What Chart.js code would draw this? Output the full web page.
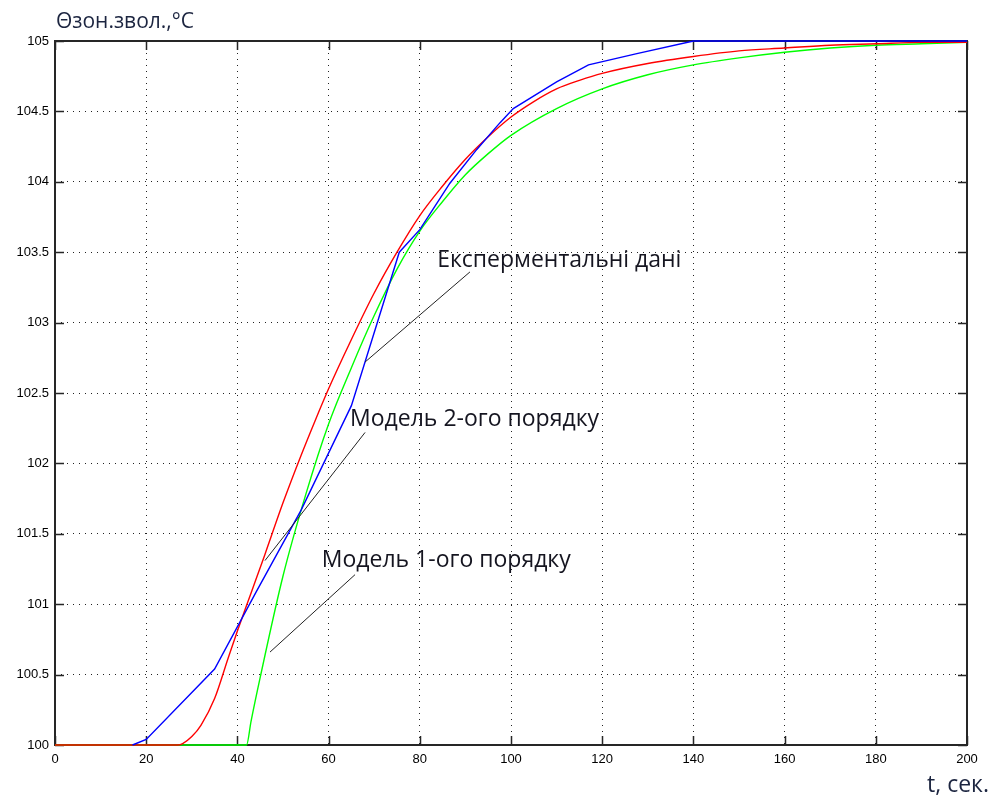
<!DOCTYPE html>
<html>
<head>
<meta charset="utf-8">
<script src="https://cdn.jsdelivr.net/npm/chart.js@4/dist/chart.umd.min.js"></script>
<style>
  html, body { margin: 0; padding: 0; background: #fff; }
  #wrap { width: 993px; height: 798px; position: relative; }
</style>
</head>
<body>
<div id="wrap"><canvas id="c" width="993" height="798"></canvas></div>
<script>
// ---- data ----
const expT   = [17, 20, 35, 44, 54, 65, 75.5, 80, 86.6, 92.5, 97.6, 100.5, 110, 117, 127.6, 140, 200];
const expVal = [100, 100.04, 100.54, 101.08, 101.67, 102.41, 103.5, 103.66, 103.99, 104.23, 104.42, 104.52, 104.71, 104.83, 104.91, 105, 105];

const m2T   = [0, 27, 28, 30, 32, 35, 38, 40, 43, 46, 50, 54, 57, 60, 65, 70, 75, 80, 85, 90, 95, 100, 105, 110, 115, 120, 130, 140, 150, 160, 170, 180, 190, 200];
const m2Val = [100, 100, 100.01, 100.06, 100.14, 100.33, 100.62, 100.81, 101.08, 101.35, 101.72, 102.06, 102.3, 102.53, 102.88, 103.21, 103.5, 103.76, 103.97, 104.16, 104.32, 104.46, 104.57, 104.66, 104.72, 104.77, 104.84, 104.89, 104.93, 104.95, 104.97, 104.98, 104.99, 104.99];

const m1T   = [0, 42, 43, 45, 50, 55, 60, 65, 70, 75, 80, 85, 90, 95, 100, 110, 120, 130, 140, 150, 160, 170, 180, 190, 200];
const m1Val = [100, 100, 100.17, 100.48, 101.2, 101.78, 102.28, 102.68, 103.05, 103.38, 103.65, 103.86, 104.05, 104.2, 104.33, 104.52, 104.66, 104.76, 104.83, 104.88, 104.92, 104.95, 104.97, 104.98, 104.99];

const xTicks = [0, 20, 40, 60, 80, 100, 120, 140, 160, 180, 200];
const yTicks = [100, 100.5, 101, 101.5, 102, 102.5, 103, 103.5, 104, 104.5, 105];

const labelExp = 'Експерментальні дані';
const labelM2  = 'Модель 2-ого порядку';
const labelM1  = 'Модель 1-ого порядку';
const yTitle   = 'Θзон.звол.,°C';
const xTitle   = 't, сек.';

// callout leader lines (in data units): [x1, y1, x2, y2]
const calloutExp = [68, 102.72, 91, 103.36];
const calloutM2  = [46.05, 101.31, 68, 102.22];
const calloutM1  = [47.15, 100.66, 65.8, 101.21];
// label anchors (data units, left / middle)
const textExp = [83.8, 103.44];
const textM2  = [64.7, 102.31];
const textM1  = [58.5, 101.31];

const pts = (xs, ys) => xs.map((x, i) => ({x, y: ys[i]}));
const seg = (c) => [{x: c[0], y: c[1]}, {x: c[2], y: c[3]}];

const framePlugin = {
  id: 'frame',
  beforeDatasetsDraw(chart) {
    const {ctx, chartArea: a, scales: {x, y}} = chart;
    ctx.save();
    ctx.strokeStyle = '#262626';
    ctx.lineWidth = 1.5;
    const L = 9;
    ctx.beginPath();
    xTicks.forEach(v => {
      const px = Math.round(x.getPixelForValue(v)) + 0.5;
      ctx.moveTo(px, a.bottom); ctx.lineTo(px, a.bottom - L);
      ctx.moveTo(px, a.top); ctx.lineTo(px, a.top + L);
    });
    yTicks.forEach(v => {
      const py = Math.round(y.getPixelForValue(v)) + 0.5;
      ctx.moveTo(a.left, py); ctx.lineTo(a.left + L, py);
      ctx.moveTo(a.right, py); ctx.lineTo(a.right - L, py);
    });
    ctx.stroke();
    ctx.lineWidth = 2;
    ctx.strokeRect(a.left, a.top, a.right - a.left, a.bottom - a.top);
    ctx.restore();
  },
  afterDatasetsDraw(chart) {
    const {ctx, scales: {x, y}} = chart;
    ctx.save();
    ctx.fillStyle = '#151520';
    ctx.font = '23px "Open Sans"';
    ctx.textBaseline = 'middle';
    ctx.textAlign = 'left';
    [[labelExp, textExp], [labelM2, textM2], [labelM1, textM1]].forEach(([t, p]) => {
      ctx.fillText(t, x.getPixelForValue(p[0]), y.getPixelForValue(p[1]));
    });
    ctx.fillStyle = '#1c2540';
    ctx.textBaseline = 'alphabetic';
    ctx.font = '21px "Open Sans"';
    ctx.fillText(yTitle, 56, 28);
    ctx.textAlign = 'right';
    ctx.font = '23px "Open Sans"';
    ctx.fillText(xTitle, 989, 792);
    ctx.restore();
  }
};

// lower "order" is drawn on top
const lineDs = (data, color, width, mono, order) => ({
  data, borderColor: color, borderWidth: width, pointRadius: 0, clip: 3, order,
  fill: false, tension: 0, cubicInterpolationMode: mono ? 'monotone' : 'default'
});

new Chart(document.getElementById('c'), {
  type: 'line',
  data: {
    datasets: [
      lineDs(seg(calloutExp), '#222', 1, false, 0),
      lineDs(seg(calloutM2), '#222', 1, false, 0),
      lineDs(seg(calloutM1), '#222', 1, false, 0),
      lineDs(pts(expT, expVal), '#0000ff', 1.4, false, 1),
      lineDs(pts(m2T, m2Val), '#ff0000', 1.4, true, 2),
      lineDs(pts(m1T, m1Val), '#00ff00', 1.4, true, 3)
    ]
  },
  options: {
    responsive: false,
    animation: false,
    devicePixelRatio: 1,
    layout: { padding: { top: 41, right: 26, left: 0, bottom: 0 } },
    plugins: { legend: { display: false }, tooltip: { enabled: false }, title: { display: false } },
    scales: {
      x: {
        type: 'linear', min: 0, max: 200,
        afterBuildTicks: s => { s.ticks = xTicks.map(v => ({value: v})); },
        afterFit: s => { s.height = 53; },
        grid: { color: '#222', lineWidth: 1, drawTicks: false },
        border: { display: false, dash: [1, 5] },
        ticks: { padding: 7, color: '#000', font: { family: '"Liberation Sans", Arial', size: 13 }, maxRotation: 0 }
      },
      y: {
        type: 'linear', min: 100, max: 105,
        afterBuildTicks: s => { s.ticks = yTicks.map(v => ({value: v})); },
        afterFit: s => { s.width = 55; },
        grid: { color: '#222', lineWidth: 1, drawTicks: false },
        border: { display: false, dash: [1, 5] },
        ticks: { padding: 6, color: '#000', font: { family: '"Liberation Sans", Arial', size: 13 },
                 callback: v => String(v) }
      }
    }
  },
  plugins: [framePlugin]
});
</script>
</body>
</html>
